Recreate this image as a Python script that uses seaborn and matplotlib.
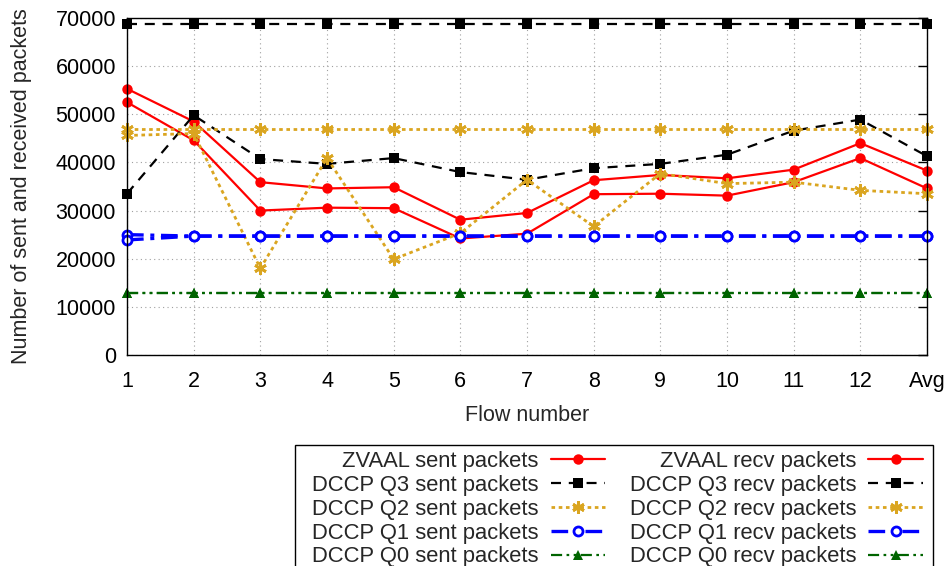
import numpy as np
import pandas as pd
import seaborn as sns
import matplotlib
matplotlib.use("Agg")
import matplotlib.pyplot as plt
from matplotlib.patches import Rectangle

# Flow categories on the x axis
flows = ["1", "2", "3", "4", "5", "6", "7", "8", "9", "10", "11", "12", "Avg"]

# Packet counts per flow
zvaal_sent = [55300, 48500, 35900, 34600, 34850, 28100, 29500, 36300, 37400, 36700, 38500, 44000, 38300]
zvaal_recv = [52500, 44600, 30000, 30600, 30500, 24200, 25200, 33400, 33500, 33100, 35900, 40900, 34600]
q3_sent = [68700] * 13
q3_recv = [33500, 49800, 40700, 39700, 40900, 38000, 36400, 38800, 39700, 41600, 46600, 48900, 41300]
q2_sent = [46900] * 13
q2_recv = [45600, 46000, 18000, 40900, 19900, 25300, 36400, 26700, 37700, 35600, 35900, 34200, 33500]
q1_sent = [25000] + [24700] * 12
q1_recv = [23900] + [24700] * 12
q0_sent = [12900] * 13
q0_recv = [12900] * 13

FS = 15.5
W, H = 944, 566

sns.set_theme(style="white")
plt.rcParams["font.family"] = ["Liberation Sans", "DejaVu Sans"]
plt.rcParams["font.size"] = FS

fig = plt.figure(figsize=(W / 100, H / 100), dpi=100)
ax = fig.add_axes([127 / W, 1 - 355 / H, (927 - 127) / W, (355 - 18) / H])

x = np.arange(1, len(flows) + 1)

styles = {
    "ZVAAL": dict(color="#ff0000", ls="-", lw=1.6, marker="o", ms=7.5, mfc="#ff0000", mew=0),
    "DCCP Q3": dict(color="#000000", ls=(0, (4.5, 3.5)), lw=1.6, marker="s", ms=6.5, mfc="#000000", mew=0),
    "DCCP Q2": dict(color="#daa520", ls=(0, (1.3, 1.3)), lw=2.0, marker=(6, 2, 0), ms=9, mfc="#daa520", mew=2.0),
    "DCCP Q1": dict(color="#0000ff", ls=(0, (5, 2, 1.2, 2)), lw=2.4, marker="o", ms=6.5, mfc="white", mew=2.0),
    "DCCP Q0": dict(color="#006400", ls=(0, (5, 2, 1.2, 2, 1.2, 2)), lw=1.6, marker="^", ms=7.5, mfc="#006400", mew=0),
}

series = [
    ("ZVAAL", "sent", zvaal_sent), ("ZVAAL", "recv", zvaal_recv),
    ("DCCP Q3", "sent", q3_sent), ("DCCP Q3", "recv", q3_recv),
    ("DCCP Q2", "sent", q2_sent), ("DCCP Q2", "recv", q2_recv),
    ("DCCP Q1", "sent", q1_sent), ("DCCP Q1", "recv", q1_recv),
    ("DCCP Q0", "sent", q0_sent), ("DCCP Q0", "recv", q0_recv),
]

handles = {}
for name, kind, vals in series:
    st = styles[name]
    label = f"{name} {kind} packets"
    df = pd.DataFrame({"flow": x, "packets": vals})
    sns.lineplot(data=df, x="flow", y="packets", ax=ax, color=st["color"],
                 linestyle=st["ls"], linewidth=st["lw"], marker=st["marker"],
                 markersize=st["ms"], markerfacecolor=st["mfc"],
                 markeredgecolor=st["color"], markeredgewidth=st["mew"],
                 label=label, legend=False, clip_on=False)
    handles[label] = ax.lines[-1]

ax.set_xlim(1, 13)
ax.set_ylim(0, 70000)
ax.set_xticks(x)
ax.set_xticklabels(flows)
ax.set_yticks(np.arange(0, 70001, 10000))
ax.grid(True, color="#a0a0a0", linestyle=(0, (1, 3)), linewidth=0.8)
for s in ax.spines.values():
    s.set_color("#000000")
    s.set_linewidth(1.0)
ax.tick_params(direction="in", length=6.5, width=1, top=True, right=True,
               colors="#000000", labelsize=FS)
ax.tick_params(axis="x", pad=11.5)
ax.tick_params(axis="y", pad=8)
ax.set_xlabel("Flow number", fontsize=FS, labelpad=9.5)
ax.set_ylabel("Number of sent and received packets", fontsize=FS, labelpad=17)

# Key box below the plot, running off the bottom edge
fig.add_artist(Rectangle((295 / W, -0.1), (933 - 295) / W, 0.1 + (1 - 445 / H),
                         transform=fig.transFigure, facecolor="white",
                         edgecolor="black", linewidth=1.0, zorder=1))

order = [f"{n} sent packets" for n in styles] + [f"{n} recv packets" for n in styles]
leg = fig.legend([handles[k] for k in order], order, ncol=2, markerfirst=False,
                 loc="upper left", bbox_to_anchor=(312 / W, 1 - 451 / H),
                 frameon=False, fontsize=15.8, handlelength=2.5,
                 handletextpad=0.55, columnspacing=1.1, labelspacing=0.13,
                 borderpad=0, borderaxespad=0)
leg.set_zorder(2)

fig.savefig("out.png", dpi=100)
